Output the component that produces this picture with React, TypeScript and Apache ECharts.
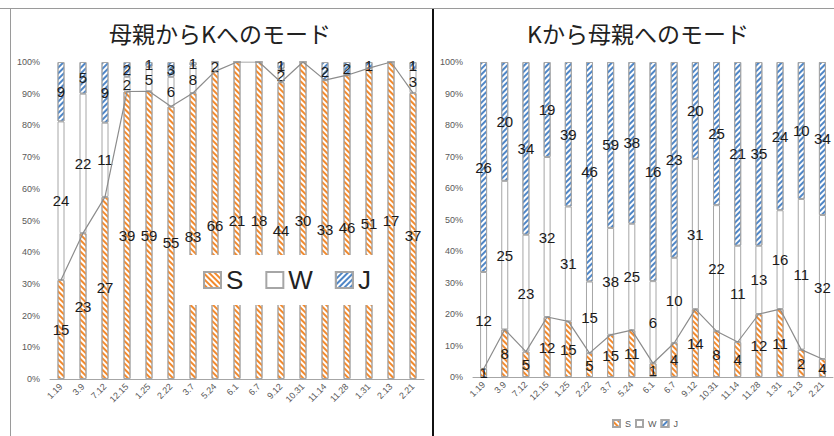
import React, { useEffect, useRef } from "react";
import * as echarts from "echarts";

// 日付（横軸）
const dates = [
  "1.19", "3.9", "7.12", "12.15", "1.25", "2.22", "3.7", "5.24", "6.1",
  "6.7", "9.12", "10.31", "11.14", "11.28", "1.31", "2.13", "2.21",
];

// 母親からKへのモード（回数）
const motherS = [15, 23, 27, 39, 59, 55, 83, 66, 21, 18, 44, 30, 33, 46, 51, 17, 37];
const motherW = [24, 22, 11, 2, 5, 6, 8, 2, 0, 0, 2, 0, 0, 0, 0, 0, 3];
const motherJ = [9, 5, 9, 2, 1, 3, 1, 0, 0, 0, 1, 0, 2, 2, 1, 0, 1];

// Kから母親へのモード（回数）
const kidS = [1, 8, 5, 12, 15, 5, 15, 11, 1, 4, 14, 8, 4, 12, 11, 2, 4];
const kidW = [12, 25, 23, 32, 31, 15, 38, 25, 6, 10, 31, 22, 11, 13, 16, 11, 32];
const kidJ = [26, 20, 34, 19, 39, 46, 59, 38, 16, 23, 20, 25, 21, 35, 24, 10, 34];

const modeNames = ["S", "W", "J"];
const titles = ["母親からKへのモード", "Kから母親へのモード"];

const FONT = "'Liberation Sans', Arial, sans-serif";
const CJK = "'Noto Sans CJK JP', sans-serif";
const ORANGE = "#F28A2E";
const BLUE = "#4F86C6";
const EDGE = "#a6a6a6";

// 斜線ハッチング
const stripe = (color: string, rotation: number) => ({
  symbol: "rect",
  symbolSize: 1,
  dashArrayX: [1, 0],
  dashArrayY: [2, 2],
  rotation,
  color,
});

const styles: Record<string, any> = {
  S: { color: "#fff", borderColor: EDGE, borderWidth: 1, decal: stripe(ORANGE, Math.PI / 4) },
  W: { color: "#fff", borderColor: EDGE, borderWidth: 1 },
  J: { color: "#fff", borderColor: EDGE, borderWidth: 1, decal: stripe(BLUE, -Math.PI / 4) },
};

function toShares(s: number[], w: number[], j: number[]) {
  const totals = s.map((v, i) => v + w[i] + j[i]);
  const wrap = (arr: number[]) => arr.map((v, i) => ({ value: v / totals[i], count: v }));
  return { S: wrap(s), W: wrap(w), J: wrap(j) };
}

function buildSeries(idx: number, s: number[], w: number[], j: number[]) {
  const shares = toShares(s, w, j) as Record<string, any[]>;
  const bars = modeNames.map((name) => ({
    name,
    type: "bar",
    stack: "st" + idx,
    xAxisIndex: idx,
    yAxisIndex: idx,
    barWidth: 7,
    itemStyle: styles[name],
    label: {
      show: true,
      position: "inside",
      color: "#1a1a1a",
      fontSize: 15,
      fontFamily: FONT,
      formatter: (p: any) => (p.data.count ? String(p.data.count) : ""),
    },
    data: shares[name],
  }));
  const line = {
    name: "Sline" + idx,
    type: "line",
    xAxisIndex: idx,
    yAxisIndex: idx,
    symbol: "none",
    z: 3,
    lineStyle: { color: "#8c8c8c", width: 1.2 },
    data: shares.S.map((d) => d.value),
  };
  return [...bars, line];
}

export default function App() {
  const ref = useRef<HTMLDivElement>(null);

  useEffect(() => {
    if (!ref.current) return;
    const chart = echarts.init(ref.current, undefined, { renderer: "svg" });

    const axisLabel = { fontSize: 9, color: "#595959", fontFamily: FONT };
    const xAxis = [0, 1].map((i) => ({
      type: "category",
      gridIndex: i,
      data: dates,
      axisLine: { lineStyle: { color: EDGE } },
      axisTick: { show: false },
      axisLabel: { ...axisLabel, rotate: 45, interval: 0, margin: 6 },
    }));
    const yAxis = [0, 1].map((i) => ({
      type: "value",
      gridIndex: i,
      min: 0,
      max: 1,
      interval: 0.1,
      axisLine: { show: false },
      axisTick: { show: false },
      splitLine: { show: false },
      axisLabel: { ...axisLabel, margin: 10, formatter: (v: number) => Math.round(v * 100) + "%" },
    }));

    chart.setOption({
      animation: false,
      backgroundColor: "#fff",
      grid: [
        { left: 50, right: 410, top: 62, bottom: 57 },
        { left: 473, right: 1, top: 62, bottom: 59 },
      ],
      xAxis,
      yAxis,
      legend: [
        {
          data: modeNames,
          icon: "rect",
          left: 186,
          top: 255,
          backgroundColor: "#fff",
          padding: [12, 16, 12, 17],
          itemWidth: 17,
          itemHeight: 16,
          itemGap: 22,
          selectedMode: false,
          textStyle: { fontSize: 26, color: "#222", fontFamily: FONT },
          z: 10,
        },
        {
          data: modeNames,
          icon: "rect",
          left: 612,
          top: 419,
          padding: 0,
          itemWidth: 7,
          itemHeight: 7,
          itemGap: 4,
          selectedMode: false,
          textStyle: { fontSize: 9, color: "#595959", fontFamily: FONT },
        },
      ],
      graphic: [
        { type: "line", shape: { x1: 0, y1: 8.5, x2: 834, y2: 8.5 }, style: { stroke: "#9a9a9a", lineWidth: 1 } },
        { type: "line", shape: { x1: 10.5, y1: 8, x2: 10.5, y2: 436 }, style: { stroke: "#9a9a9a", lineWidth: 1 } },
        { type: "line", shape: { x1: 433, y1: 9, x2: 433, y2: 436 }, style: { stroke: "#111", lineWidth: 2 } },
        {
          type: "text", x: 220, y: 33,
          style: { text: titles[0], fontSize: 23, fontFamily: CJK, fill: "#222", textAlign: "center", textVerticalAlign: "middle" },
        },
        {
          type: "text", x: 638, y: 33,
          style: { text: titles[1], fontSize: 23, fontFamily: CJK, fill: "#222", textAlign: "center", textVerticalAlign: "middle" },
        },
      ],
      series: [
        ...buildSeries(0, motherS, motherW, motherJ),
        ...buildSeries(1, kidS, kidW, kidJ),
      ],
    });

    return () => chart.dispose();
  }, []);

  return (
    <div
      ref={ref}
      style={{ position: "absolute", left: 0, top: 0, width: 834, height: 436 }}
    />
  );
}
